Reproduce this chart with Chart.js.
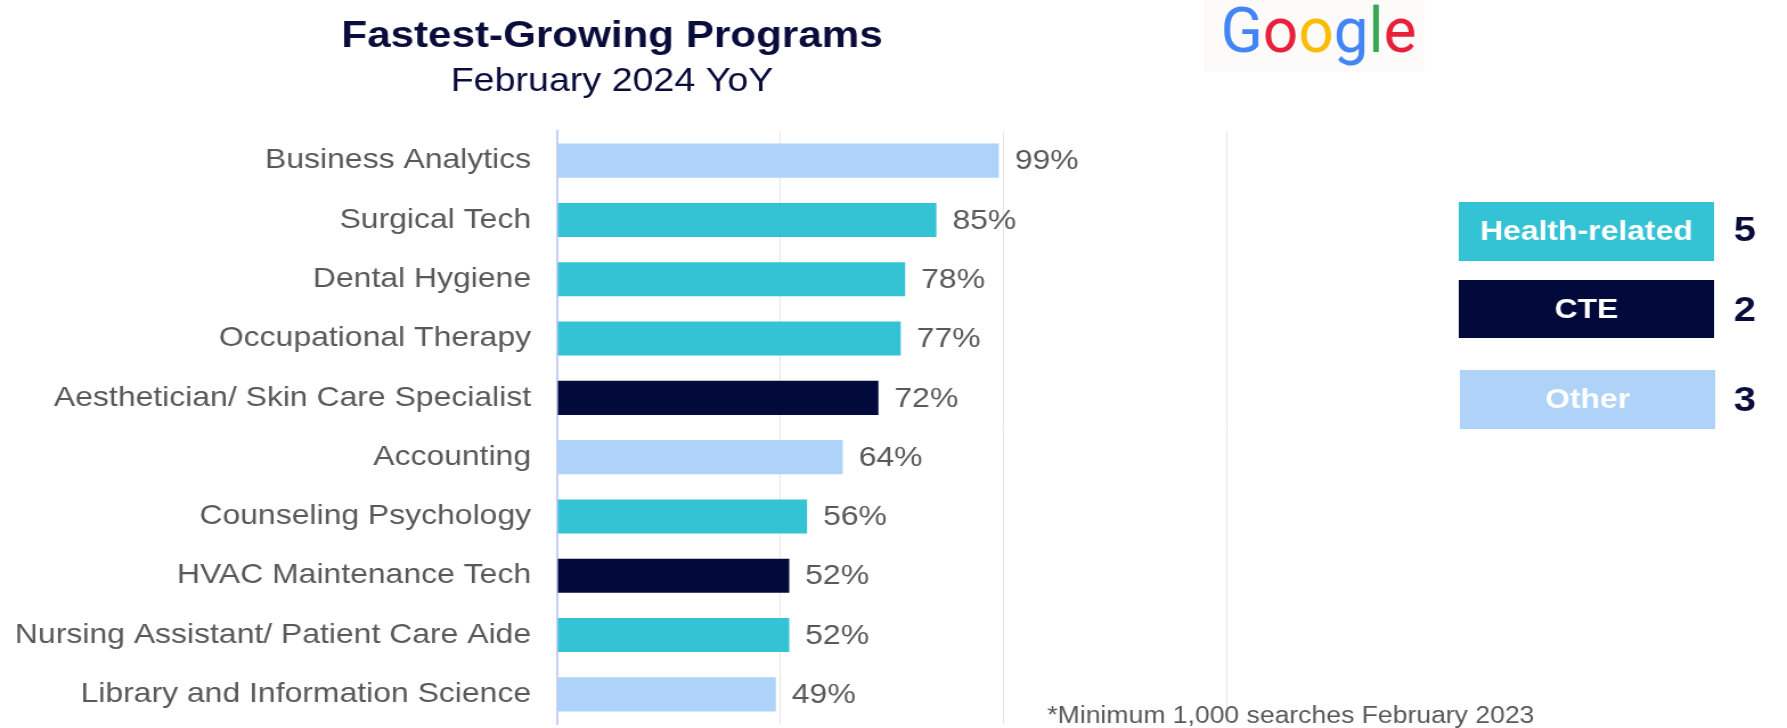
<!DOCTYPE html>
<html><head><meta charset="utf-8">
<script src="https://cdn.jsdelivr.net/npm/chart.js@4.4.1/dist/chart.umd.min.js"></script>
<style>
html,body{margin:0;padding:0;background:#fff;overflow:hidden;width:1787px;height:728px;}
#wrap{position:absolute;left:0;top:0;width:1568px;height:728px;transform:scaleX(1.139668);transform-origin:0 0;}
</style></head><body>
<div id="wrap"><canvas id="c"></canvas></div>
<script>
const categories = ["Business Analytics","Surgical Tech","Dental Hygiene","Occupational Therapy","Aesthetician/ Skin Care Specialist","Accounting","Counseling Psychology","HVAC Maintenance Tech","Nursing Assistant/ Patient Care Aide","Library and Information Science"];
const values = [99,85,78,77,72,64,56,52,52,49];
const groups = ["Other","Health-related","Health-related","Health-related","CTE","Other","Health-related","CTE","Health-related","Other"];
const legendLabels = ["Health-related","CTE","Other"];
const legendCounts = [5,2,3];
const xTicks = [0,50,100,150];
const titleText = "Fastest-Growing Programs";
const subtitleText = "February 2024 YoY";
const footnoteText = "*Minimum 1,000 searches February 2023";
const logoLetters = ["G","o","o","g","l","e"];

const groupColors = {"Health-related":"#34C3D4","CTE":"#020A3C","Other":"#AED2F8"};
const legendTextColors = {"Health-related":"#FFFFFF","CTE":"#FFFFFF","Other":"#FFFFFF"};
const logoColors = ["#4285F4","#E8203A","#FBBC05","#4285F4","#34A853","#E8203A"];
const FONT = '"Liberation Sans", Arial, sans-serif';
const NAVY = "#0A0D3C";
const GRAY = "#595959";

const overlay = {
  id: 'overlay',
  afterDatasetsDraw(chart) {
    const ctx = chart.ctx;
    const meta = chart.getDatasetMeta(0);
    ctx.save();
    ctx.font = '28px ' + FONT;
    ctx.fillStyle = GRAY;
    ctx.textAlign = 'left';
    ctx.textBaseline = 'middle';
    meta.data.forEach((bar, i) => {
      ctx.fillText(values[i] + '%', bar.x + 14, bar.y + 1);
    });
    ctx.restore();
  },
  afterDraw(chart) {
    const ctx = chart.ctx;
    ctx.save();
    // title
    ctx.fillStyle = NAVY;
    ctx.textAlign = 'center';
    ctx.textBaseline = 'alphabetic';
    ctx.font = 'bold 37px ' + FONT;
    ctx.fillText(titleText, 537, 46.5);
    ctx.font = '33px ' + FONT;
    ctx.fillText(subtitleText, 537, 91);
    // logo background
    ctx.fillStyle = '#FDFAFA';
    ctx.fillRect(1056, 0, 194, 72);
    // logo
    ctx.font = '63px Roboto, ' + FONT;
    ctx.textAlign = 'left';
    let total = 0;
    const ws = logoLetters.map(l => { const w = ctx.measureText(l).width; total += w; return w; });
    const sx = 172 / total;
    ctx.save();
    ctx.translate(1071, 52);
    ctx.scale(sx, 1);
    let x = 0;
    logoLetters.forEach((l, i) => { ctx.fillStyle = logoColors[i]; ctx.fillText(l, x, 0); x += ws[i]; });
    ctx.restore();
    // legend boxes
    const boxes = [[1280, 202, 224, 59], [1280, 280, 224, 58], [1281, 370, 224, 59]];
    const countY = [230.5, 310.5, 400.5];
    legendLabels.forEach((lab, i) => {
      const b = boxes[i];
      ctx.fillStyle = groupColors[lab];
      ctx.fillRect(b[0], b[1], b[2], b[3]);
      ctx.fillStyle = legendTextColors[lab];
      ctx.font = 'bold 28px ' + FONT;
      ctx.textAlign = 'center';
      ctx.textBaseline = 'middle';
      ctx.fillText(lab, b[0] + b[2] / 2, b[1] + b[3] / 2 + 1);
      ctx.fillStyle = NAVY;
      ctx.font = 'bold 35px ' + FONT;
      ctx.fillText(String(legendCounts[i]), 1531, countY[i] + 1);
    });
    // footnote
    ctx.fillStyle = GRAY;
    ctx.font = '23.3px ' + FONT;
    ctx.textAlign = 'left';
    ctx.textBaseline = 'alphabetic';
    ctx.fillText(footnoteText, 919, 723);
    ctx.restore();
  }
};

new Chart(document.getElementById('c'), {
  type: 'bar',
  data: {
    labels: categories,
    datasets: [{
      data: values,
      backgroundColor: groups.map(g => groupColors[g]),
      borderWidth: 0,
      barPercentage: 0.575,
      categoryPercentage: 1.0
    }]
  },
  options: {
    indexAxis: 'y',
    responsive: true,
    maintainAspectRatio: false,
    animation: false,
    layout: { padding: { top: 131, bottom: 4, left: 0, right: 492 } },
    plugins: { legend: { display: false }, tooltip: { enabled: false }, title: { display: false } },
    scales: {
      x: {
        min: xTicks[0], max: xTicks[xTicks.length - 1],
        afterBuildTicks(scale) { scale.ticks = xTicks.map(v => ({ value: v })); },
        ticks: { display: false },
        border: { display: false },
        grid: {
          drawTicks: false,
          color: (c) => (c.tick && c.tick.value === 0) ? 'rgba(0,0,0,0)' : '#E6E6E6',
          lineWidth: 1
        }
      },
      y: {
        afterFit(scale) { scale.width = 489; scale.paddingTop = 0; scale.paddingBottom = 0; },
        grid: { display: false, drawTicks: false },
        border: { display: true, color: '#C8CEF6', width: 2 },
        ticks: { color: GRAY, font: { family: FONT, size: 28 }, padding: 23 }
      }
    }
  },
  plugins: [overlay]
});
</script>
</body></html>
